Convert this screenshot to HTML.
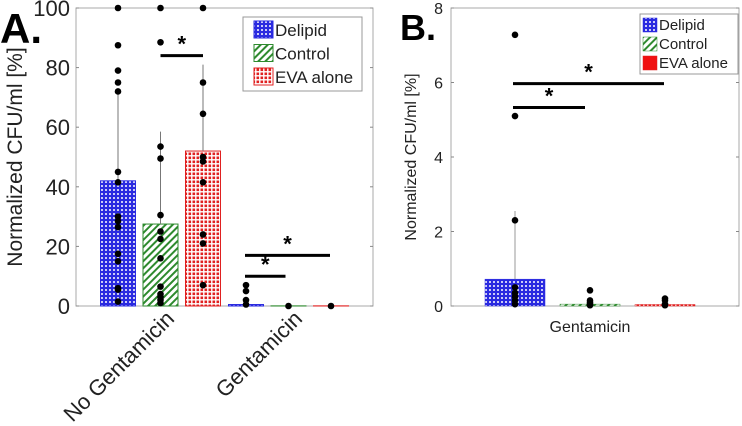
<!DOCTYPE html>
<html><head><meta charset="utf-8"><style>
body{margin:0;background:#fff;}
svg{display:block;font-family:"Liberation Sans",sans-serif;}
</style></head><body>
<svg id="c" width="742" height="426" viewBox="0 0 742 426" xmlns="http://www.w3.org/2000/svg">
<defs>
<pattern id="pBlue" width="4" height="4" patternUnits="userSpaceOnUse"><rect width="4" height="4" fill="#2a2ae0"/><circle cx="2" cy="2" r="1" fill="#fff"/></pattern>
<pattern id="pGreen" width="5" height="5" patternUnits="userSpaceOnUse" patternTransform="rotate(45)"><rect width="5" height="5" fill="#fff"/><rect width="2" height="5" fill="#2e8a2e"/></pattern>
<pattern id="pRed" width="4" height="4" patternUnits="userSpaceOnUse"><rect width="4" height="4" fill="#fff"/><rect x="0.5" y="0.5" width="2.6" height="2.6" fill="#e02020"/></pattern>
</defs>
<g id="gA"></g><g id="gB"></g>
</svg>
<script>
const NS="http://www.w3.org/2000/svg";
const groupsA=["No Gentamicin","Gentamicin"];
const seriesNames=["Delipid","Control","EVA alone"];
const meanA=[[42,27.5,52],[0.5,0.05,0.05]];
const errA=[[71.5,58.5,81],[0.5,0.05,0.05]];
const ptsA=[[[100,87.5,79,75,72,45,41.5,30,28.5,26.5,17.5,15,6,5.5,1.5],[100,88.5,53.5,49.5,30.5,25,22.5,16,6.5,4,3,2,1],[100,75,64.5,50,48.5,41.5,24,21,7]],[[7,5,2,0.5],[0],[0]]];
const ticksA=[0,20,40,60,80,100];
const meanB=[0.72,0.05,0.03];
const errB=[2.55,0.05,0.03];
const ptsB=[[7.28,5.1,2.3,0.5,0.35,0.25,0.15,0.05],[0.42,0.15,0.1,0.05,0.02],[0.2,0.15,0.05,0.02]];
const ticksB=[0,2,4,6,8];
const fills=["url(#pBlue)","url(#pGreen)","url(#pRed)"];
const strokes=["#2a2ae0","#2e8a2e","#e02020"];
function mk(p,tag,a,txt){const e=document.createElementNS(NS,tag);for(const k in a)e.setAttribute(k,a[k]);if(txt!==undefined)e.textContent=txt;p.appendChild(e);return e;}

// Panel A
const A=document.getElementById('gA');
const ax={l:76,r:373,t:8,b:306,max:100};
const yA=v=>ax.b-(v/ax.max)*(ax.b-ax.t);
const cxA=(g,s)=>118+g*128+s*42.5;
let e=mk(A,'rect',{x:ax.l,y:ax.t,width:ax.r-ax.l,height:ax.b-ax.t,fill:'none',stroke:'#aaa'});

ticksA.forEach(t=>{const y=yA(t);
 mk(A,'line',{x1:ax.l,x2:ax.l+3,y1:y,y2:y,stroke:'#888'});mk(A,'line',{x1:ax.r,x2:ax.r-3,y1:y,y2:y,stroke:'#888'});
 const l=mk(A,'text',{x:ax.l-6,y:y+8,'text-anchor':'end','font-size':22,fill:'#222'},t);
 });
meanA.forEach((row,g)=>row.forEach((v,s)=>{const c=cxA(g,s);
 const b=mk(A,'rect',{x:c-17.5,y:yA(v),width:35,height:ax.b-yA(v),fill:fills[s],stroke:strokes[s],'stroke-width':1});
 
 mk(A,'line',{x1:c,x2:c,y1:yA(v),y2:yA(errA[g][s]),stroke:'#777','stroke-width':1});
 ptsA[g][s].forEach(p=>{const d=mk(A,'circle',{cx:c,cy:yA(p),r:3.3,fill:'#000'});});
}));
function sig(P,x1,x2,y){mk(P,'line',{x1:x1,x2:x2,y1:y,y2:y,stroke:'#000','stroke-width':3});
 const s=mk(P,'text',{x:(x1+x2)/2,y:y-4,'text-anchor':'middle','font-size':22,'font-weight':'bold'},'*');
 }
sig(A,cxA(0,1),cxA(0,2),yA(84));
sig(A,cxA(1,0)-1,cxA(1,1)-3,yA(10));
sig(A,cxA(1,0)-1,cxA(1,2)-1,yA(17));
groupsA.forEach((g,i)=>{const x=cxA(i,1)+15,y=320;
 const t=mk(A,'text',{x:x,y:y,'text-anchor':'end','font-size':22,fill:'#222',transform:`rotate(-45 ${x} ${y})`},g);
 });
e=mk(A,'text',{x:22,y:157,'text-anchor':'middle','font-size':21,fill:'#222',transform:'rotate(-90 22 157)'},'Normalized CFU/ml [%]');

e=mk(A,'text',{x:0,y:43,'font-size':42,'font-weight':'bold'},'A.');

// legend A
e=mk(A,'rect',{x:243,y:17,width:119,height:74,fill:'#fff',stroke:'#999'});

seriesNames.forEach((n,i)=>{const y=21+i*23.5;
 mk(A,'rect',{x:254,y:y,width:19,height:17,fill:fills[i],stroke:strokes[i]});
 const t=mk(A,'text',{x:275,y:y+15,'font-size':17,fill:'#222'},n);
 });

// Panel B
const B=document.getElementById('gB');
const bx={l:451,r:739,t:8,b:306,max:8};
const yB=v=>bx.b-(v/bx.max)*(bx.b-bx.t);
const cxB=s=>515+s*75;
e=mk(B,'rect',{x:bx.l,y:bx.t,width:bx.r-bx.l,height:bx.b-bx.t,fill:'none',stroke:'#aaa'});

ticksB.forEach(t=>{const y=yB(t);
 mk(B,'line',{x1:bx.l,x2:bx.l+3,y1:y,y2:y,stroke:'#888'});mk(B,'line',{x1:bx.r,x2:bx.r-3,y1:y,y2:y,stroke:'#888'});
 const l=mk(B,'text',{x:bx.l-8,y:y+6,'text-anchor':'end','font-size':16,fill:'#222'},t);
 });
meanB.forEach((v,s)=>{const c=cxB(s);
 const b=mk(B,'rect',{x:c-30,y:Math.min(yB(v),bx.b-1.5),width:60,height:Math.max(ax.b-yB(v),1.5),fill:fills[s],stroke:strokes[s],'stroke-width':0.5});
 
 mk(B,'line',{x1:c,x2:c,y1:yB(v),y2:yB(errB[s]),stroke:'#999','stroke-width':1});
 ptsB[s].forEach(p=>{const d=mk(B,'circle',{cx:c,cy:yB(p),r:3.3,fill:'#000'});});
});
sig(B,cxB(0)-2,cxB(1)-5,yB(5.33));
sig(B,cxB(0)-2,cxB(2)-1,yB(5.97));
e=mk(B,'text',{x:590,y:332,'text-anchor':'middle','font-size':16,fill:'#222'},'Gentamicin');

e=mk(B,'text',{x:416,y:157,'text-anchor':'middle','font-size':16,fill:'#222',transform:'rotate(-90 416 157)'},'Normalized CFU/ml [%]');

e=mk(B,'text',{x:400,y:40,'font-size':36,'font-weight':'bold'},'B.');

e=mk(B,'rect',{x:640,y:14,width:98,height:60,fill:'#fff',stroke:'#999'});

const fillsB=["url(#pBlue)","url(#pGreen)","#f01010"];
seriesNames.forEach((n,i)=>{const y=18+i*19;
 mk(B,'rect',{x:643,y:y,width:14,height:14,fill:fillsB[i],stroke:strokes[i],'stroke-width':0.5});
 const t=mk(B,'text',{x:659,y:y+12,'font-size':15,fill:'#222'},n);
 });
</script>
</body></html>
